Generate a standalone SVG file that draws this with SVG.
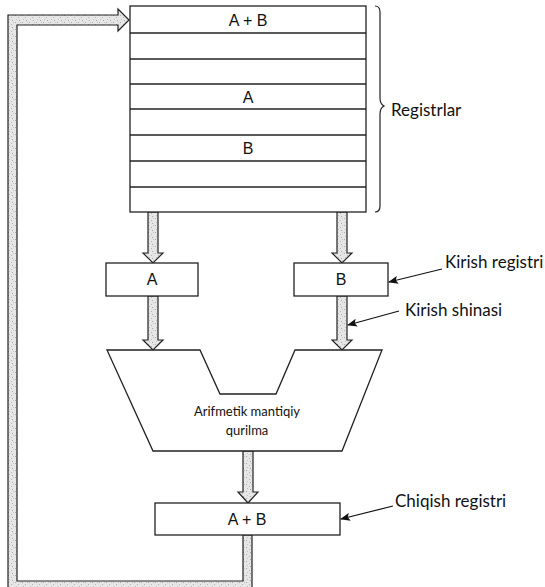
<svg xmlns="http://www.w3.org/2000/svg" width="545" height="587" viewBox="0 0 545 587">
<defs>
<pattern id="stip" width="7" height="7" patternUnits="userSpaceOnUse">
<rect width="7" height="7" fill="#e6e6e6"/>
<rect x="1" y="1" width="1" height="1" fill="#aaa"/>
<rect x="4" y="3" width="1" height="1" fill="#b4b4b4"/>
<rect x="2" y="5" width="1" height="1" fill="#c0c0c0"/>
<rect x="5" y="6" width="1" height="1" fill="#a8a8a8"/>
<rect x="6" y="1" width="1" height="1" fill="#c8c8c8"/>
</pattern>
<marker id="ah" markerWidth="10" markerHeight="8" refX="9" refY="4" orient="auto" markerUnits="userSpaceOnUse">
<path d="M0,0 L10,4 L0,8 L2,4 Z" fill="#111"/>
</marker>
</defs>
<style>
.box{fill:#fff;stroke:#222;stroke-width:1.3}
.bus{fill:url(#stip);stroke:#222;stroke-width:1.2;stroke-linejoin:miter}
.t{font-family:"Liberation Sans",Arial,sans-serif;font-size:16px;fill:#111;text-anchor:middle}
.lab{font-family:Lato,"Open Sans",sans-serif;font-size:17px;fill:#111}
.alu{font-family:Lato,"Open Sans",sans-serif;font-size:13px;fill:#111;text-anchor:middle}
.ptr{stroke:#111;stroke-width:1.2;fill:none;marker-end:url(#ah)}
</style>

<g id="connectors">
<polygon class="bus" points="148,212 158,212 158,253 163,253 153,263 143,253 148,253"/>
<polygon class="bus" points="337,212 347,212 347,253 352,253 342,263 332,253 337,253"/>
<polygon class="bus" points="148,296 158,296 158,340 163,340 153,350 143,340 148,340"/>
<polygon class="bus" points="337,296 347,296 347,340 352,340 342,350 332,340 337,340"/>
<polygon class="bus" points="243,451 253,451 253,492 258,492 248,503 238,492 243,492"/>
<polygon id="feedback" class="bus" points="243,535 243,581 17,581 17,25 118,25 118,31 129,20 118,9 118,15 8,15 8,592 252,592 252,535"/>
</g>

<g id="registers">
<rect class="box" x="130" y="6" width="236" height="206"/>
<g stroke="#222" stroke-width="1.3">
<line x1="130" y1="33" x2="366" y2="33"/>
<line x1="130" y1="59" x2="366" y2="59"/>
<line x1="130" y1="84" x2="366" y2="84"/>
<line x1="130" y1="109" x2="366" y2="109"/>
<line x1="130" y1="135" x2="366" y2="135"/>
<line x1="130" y1="161" x2="366" y2="161"/>
<line x1="130" y1="187" x2="366" y2="187"/>
</g>
<text class="t" x="248" y="26">A + B</text>
<text class="t" x="248" y="103">A</text>
<text class="t" x="248" y="154">B</text>
</g>

<g id="brace">
<path d="M375,6 Q380,6 380,12 L380,98 Q380,104 384,106 Q380,108 380,114 L380,206 Q380,212 375,212" fill="none" stroke="#222" stroke-width="1.2"/>
<text class="lab" x="391" y="116">Registrlar</text>
</g>

<g id="regA">
<rect class="box" x="106" y="263" width="92" height="33"/>
<text class="t" x="152" y="285">A</text>
</g>

<g id="regB">
<rect class="box" x="294" y="263" width="94" height="33"/>
<text class="t" x="341" y="285">B</text>
</g>

<g id="alu">
<polygon class="box" points="107,350 200,350 220,394 276,394 295,350 382,350 342,451 153,451"/>
<text class="alu" x="247" y="416">Arifmetik mantiqiy</text>
<text class="alu" x="247" y="435">qurilma</text>
</g>

<g id="regOut">
<rect class="box" x="155" y="503" width="185" height="32"/>
<text class="t" x="247" y="525">A + B</text>
</g>

<g id="labels">
<line class="ptr" x1="442" y1="269" x2="389" y2="282"/>
<text class="lab" x="445" y="268">Kirish registri</text>
<line class="ptr" x1="399" y1="311" x2="348" y2="325"/>
<text class="lab" x="405" y="316">Kirish shinasi</text>
<line class="ptr" x1="393" y1="506" x2="341" y2="519"/>
<text class="lab" x="395" y="507">Chiqish registri</text>
</g>
</svg>
